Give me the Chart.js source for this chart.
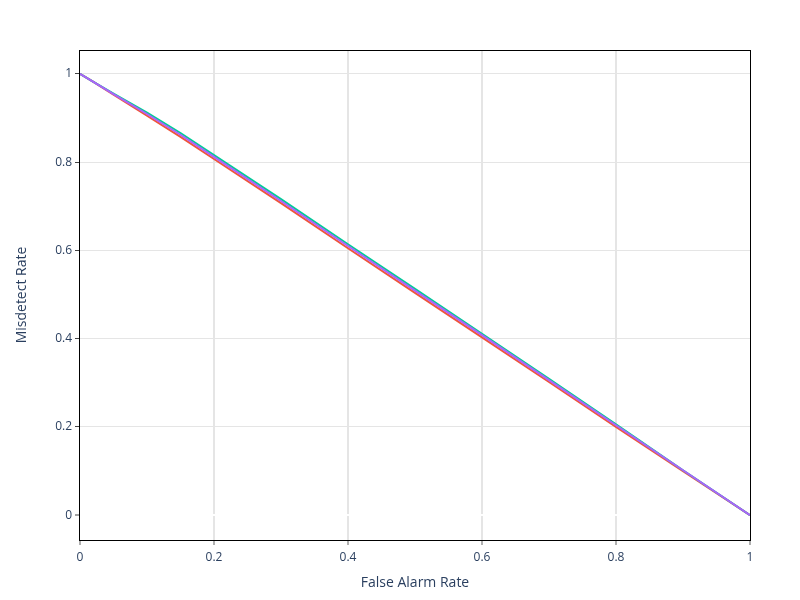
<!DOCTYPE html>
<html>
<head>
<meta charset="utf-8">
<script src="https://cdn.jsdelivr.net/npm/chart.js@4.4.1/dist/chart.umd.min.js"></script>
<style>
  html, body { margin: 0; padding: 0; background: #fff; }
</style>
</head>
<body>
<canvas id="roc" width="800" height="600"></canvas>
<script>
// false alarm rate (x) shared by all curves
var farValues = [0, 0.02, 0.05, 0.1, 0.15, 0.2, 0.3, 0.4, 0.5, 0.6, 0.7, 0.8, 0.9, 1];
// misdetect rate (y) per curve
var redMdr    = [1, 0.982, 0.953, 0.905, 0.857, 0.807, 0.707, 0.605, 0.504, 0.403, 0.302, 0.200, 0.100, 0];
var tealMdr   = [1, 0.982, 0.955, 0.912, 0.866, 0.816, 0.716, 0.614, 0.513, 0.411, 0.309, 0.206, 0.102, 0];
var purpleMdr = [1, 0.982, 0.954, 0.909, 0.862, 0.812, 0.712, 0.610, 0.509, 0.408, 0.306, 0.204, 0.102, 0];
var seriesNames = ['trace 1', 'trace 2', 'trace 3'];
var xTickValues = [0, 0.2, 0.4, 0.6, 0.8, 1];
var yTickValues = [0, 0.2, 0.4, 0.6, 0.8, 1];

var textColor = '#2a3f5f';
var gridGray = '#e5e5e5';

function toPoints(ys) {
  return farValues.map(function(x, i) { return { x: x, y: ys[i] }; });
}

function fmt(v) { return String(Math.round(v * 10) / 10); }

// black box round the plot area, like a mirrored axis frame
var framePlugin = {
  id: 'frame',
  afterDatasetsDraw: function(chart) {
    var a = chart.chartArea, ctx = chart.ctx;
    ctx.save();
    ctx.strokeStyle = '#000';
    ctx.lineWidth = 1;
    ctx.strokeRect(a.left - 0.5, a.top + 0.5, a.right - a.left + 1, a.bottom - a.top);
    ctx.restore();
  }
};

var lineStyle = { borderWidth: 2, pointRadius: 0, fill: false, tension: 0 };

new Chart(document.getElementById('roc'), {
  type: 'line',
  data: {
    datasets: [
      // first dataset is painted last, so purple sits on top
      Object.assign({ label: seriesNames[2], data: toPoints(purpleMdr), borderColor: '#AB63FA' }, lineStyle),
      Object.assign({ label: seriesNames[1], data: toPoints(tealMdr), borderColor: '#00CC96' }, lineStyle),
      Object.assign({ label: seriesNames[0], data: toPoints(redMdr), borderColor: '#EF553B' }, lineStyle)
    ]
  },
  options: {
    responsive: false,
    animation: false,
    layout: { padding: { left: 0, right: 50, top: 50, bottom: 0 } },
    plugins: { legend: { display: false }, tooltip: { enabled: false } },
    scales: {
      x: {
        type: 'linear',
        min: 0,
        max: 1,
        afterBuildTicks: function(axis) { axis.ticks = xTickValues.map(function(v) { return { value: v }; }); },
        afterFit: function(scale) { scale.height = 60; },
        border: { display: false },
        grid: {
          color: function(c) { return (c.tick && (c.tick.value === 0 || c.tick.value === 1)) ? 'rgba(0,0,0,0)' : gridGray; },
          lineWidth: 2,
          tickColor: '#b0b0b0',
          tickLength: 5,
          tickWidth: 2
        },
        ticks: {
          color: textColor,
          font: { family: '"Open Sans", sans-serif', size: 12 },
          maxRotation: 0,
          padding: 5,
          callback: function(v) { return fmt(v); }
        },
        title: {
          display: true,
          text: 'False Alarm Rate',
          color: textColor,
          font: { family: '"Open Sans", sans-serif', size: 14 },
          padding: { top: 0, bottom: 9 }
        }
      },
      y: {
        type: 'linear',
        min: -0.056,
        max: 1.054,
        afterBuildTicks: function(axis) { axis.ticks = yTickValues.map(function(v) { return { value: v }; }); },
        afterFit: function(scale) { scale.width = 80; },
        border: { display: false },
        grid: {
          color: function(c) { return (c.tick && c.tick.value === 0) ? '#ffffff' : gridGray; },
          lineWidth: function(c) { return (c.tick && c.tick.value === 0) ? 2 : 1; },
          tickColor: '#444',
          tickLength: 5,
          tickWidth: 1
        },
        ticks: {
          color: textColor,
          font: { family: '"Open Sans", sans-serif', size: 12 },
          padding: 3,
          callback: function(v) { return fmt(v); }
        },
        title: {
          display: true,
          text: 'Misdetect Rate',
          color: textColor,
          font: { family: '"Open Sans", sans-serif', size: 14 },
          padding: { top: 14, bottom: 0 }
        }
      }
    }
  },
  plugins: [framePlugin]
});
</script>
</body>
</html>
